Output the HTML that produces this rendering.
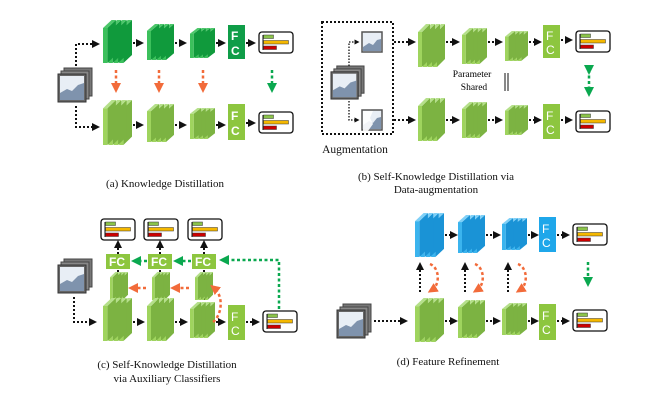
<!DOCTYPE html>
<html><head><meta charset="utf-8"><style>
html,body{margin:0;padding:0;background:#fff}
svg{display:block}
.cap{font-family:"Liberation Serif",serif;font-size:11px;fill:#111}
.fc{font-family:"Liberation Sans",sans-serif;font-size:12px;fill:#fff;font-weight:bold}
.d{fill:none;stroke:#111;stroke-width:2;stroke-dasharray:2,2}
</style></head><body>
<svg width="650" height="400" viewBox="0 0 650 400" xmlns="http://www.w3.org/2000/svg">
<defs>
<g id="sdg"><polygon points="4,8 12,0 12,35 4,43" fill="#109a3c"/><polygon points="0,8 8,0 12,0 4,8" fill="#4cc76a"/><rect x="0" y="8" width="4" height="35" fill="#3cc05c"/></g>
<symbol id="bdg" viewBox="0 0 27 43" preserveAspectRatio="none"><use href="#sdg" x="15"/><use href="#sdg" x="10"/><use href="#sdg" x="5"/><use href="#sdg" x="0"/></symbol>
<g id="slg"><polygon points="4,8 12,0 12,35 4,43" fill="#7cb342"/><polygon points="0,8 8,0 12,0 4,8" fill="#b5e08a"/><rect x="0" y="8" width="4" height="35" fill="#9fd45e"/></g>
<symbol id="blg" viewBox="0 0 27 43" preserveAspectRatio="none"><use href="#slg" x="15"/><use href="#slg" x="10"/><use href="#slg" x="5"/><use href="#slg" x="0"/></symbol>
<g id="sbl"><polygon points="4,8 12,0 12,35 4,43" fill="#1a93d6"/><polygon points="0,8 8,0 12,0 4,8" fill="#7fd0f7"/><rect x="0" y="8" width="4" height="35" fill="#3bb4ee"/></g>
<symbol id="bbl" viewBox="0 0 27 43" preserveAspectRatio="none"><use href="#sbl" x="15"/><use href="#sbl" x="10"/><use href="#sbl" x="5"/><use href="#sbl" x="0"/></symbol>
<symbol id="out" viewBox="0 0 36 23"><rect x="1" y="1" width="34" height="21" rx="3" fill="#fff" stroke="#111" stroke-width="1.3"/><line x1="5" y1="4" x2="5" y2="19" stroke="#111"/><rect x="5.5" y="4" width="10" height="3.5" fill="#8bc34a" stroke="#333" stroke-width=".5"/><rect x="5.5" y="9.5" width="25" height="3.5" fill="#f5b800" stroke="#333" stroke-width=".5"/><rect x="5.5" y="15" width="13" height="3.5" fill="#c00" stroke="#333" stroke-width=".5"/></symbol>
<symbol id="img" viewBox="0 0 36 37"><rect x="7" y="1" width="28" height="28" fill="#777" stroke="#444"/><rect x="4" y="4" width="28" height="28" fill="#888" stroke="#444"/><rect x="1" y="7" width="28" height="28" fill="#666" stroke="#333"/><rect x="3" y="9" width="24" height="24" fill="#e8eef5"/><polygon points="3,26 10,22 15,24 21,18 27,16 27,33 3,33" fill="#7f93ad"/></symbol>
<symbol id="simg" viewBox="0 0 22 22"><rect x="1" y="1" width="20" height="20" fill="#e8eef5" stroke="#555" stroke-width="1.5"/><polygon points="2,16 8,12 12,14 16,9 20,8 20,20 2,20" fill="#7f93ad"/></symbol>
<marker id="ak" viewBox="0 0 10 10" refX="5" refY="5" markerWidth="4" markerHeight="4" orient="auto"><path d="M0,0L10,5L0,10z" fill="#111"/></marker>
<marker id="ao" viewBox="0 0 10 10" refX="5" refY="5" markerWidth="4" markerHeight="4" orient="auto"><path d="M0,0L10,5L0,10z" fill="#f26b3a"/></marker>
<marker id="ag" viewBox="0 0 10 10" refX="5" refY="5" markerWidth="4" markerHeight="4" orient="auto"><path d="M0,0L10,5L0,10z" fill="#0aa84f"/></marker>
</defs>

<!-- (a) -->
<use href="#img" x="57" y="67" width="36" height="37"/>
<path class="d" d="M76,66V44H96" marker-end="url(#ak)"/>
<path class="d" d="M76,106V127H96" marker-end="url(#ak)"/>
<use href="#bdg" x="103" y="20" width="29" height="43"/>
<use href="#bdg" x="147" y="24" width="27" height="36"/>
<use href="#bdg" x="190" y="28" width="25" height="30"/>
<rect x="228" y="25" width="17" height="34" fill="#0f9d48"/><text class="fc" x="231" y="40">F</text><text class="fc" x="231" y="55">C</text>
<use href="#out" x="258" y="31" width="36" height="23"/>
<path class="d" d="M133,43H140" marker-end="url(#ak)"/><path class="d" d="M175,43H183" marker-end="url(#ak)"/><path class="d" d="M216,43H222" marker-end="url(#ak)"/><path class="d" d="M246,43H252" marker-end="url(#ak)"/>
<use href="#blg" x="103" y="100" width="29" height="45"/>
<use href="#blg" x="147" y="104" width="27" height="38"/>
<use href="#blg" x="190" y="108" width="25" height="31"/>
<rect x="228" y="104" width="17" height="36" fill="#8dc63f"/><text class="fc" x="231" y="120">F</text><text class="fc" x="231" y="135">C</text>
<use href="#out" x="258" y="111" width="36" height="23"/>
<path class="d" d="M133,125H140" marker-end="url(#ak)"/><path class="d" d="M175,125H183" marker-end="url(#ak)"/><path class="d" d="M216,125H222" marker-end="url(#ak)"/><path class="d" d="M246,123H252" marker-end="url(#ak)"/>
<g stroke="#f26b3a" stroke-width="2.5" stroke-dasharray="3,2.5"><path d="M116,70V88" marker-end="url(#ao)"/><path d="M159,70V88" marker-end="url(#ao)"/><path d="M203,70V88" marker-end="url(#ao)"/></g>
<path d="M272,70V88" stroke="#0aa84f" stroke-width="2.5" stroke-dasharray="3,2.5" marker-end="url(#ag)"/>
<text class="cap" x="165" y="187" text-anchor="middle">(a) Knowledge Distillation</text>

<!-- (b) -->
<rect x="322" y="22" width="71" height="112" fill="none" stroke="#111" stroke-width="2" stroke-dasharray="2,2"/>
<use href="#img" x="330" y="65" width="35" height="36"/>
<use href="#simg" x="361" y="31" width="22" height="22"/>
<use href="#simg" x="361" y="109" width="22" height="22"/>
<polygon points="369,111 373,111 370,118 373,124 368,131 363,131 363,111" fill="#fff" opacity=".9"/>
<path d="M349,66V42H357" fill="none" stroke="#111" stroke-width="1.3" stroke-dasharray="1.5,1.5" marker-end="url(#ak)"/>
<path d="M349,101V120H357" fill="none" stroke="#111" stroke-width="1.3" stroke-dasharray="1.5,1.5" marker-end="url(#ak)"/>
<text class="cap" x="355" y="153" text-anchor="middle" style="font-size:11.5px">Augmentation</text>
<use href="#blg" x="418" y="24" width="27" height="43"/>
<use href="#blg" x="462" y="28" width="25" height="36"/>
<use href="#blg" x="505" y="31" width="23" height="30"/>
<rect x="543" y="25" width="17" height="33" fill="#8dc63f"/><text class="fc" x="546" y="40" style="font-weight:normal">F</text><text class="fc" x="546" y="54" style="font-weight:normal">C</text>
<use href="#out" x="575" y="30" width="36" height="23"/>
<path class="d" d="M394,42H412" marker-end="url(#ak)"/><path class="d" d="M446,42H456" marker-end="url(#ak)"/><path class="d" d="M488,42H499" marker-end="url(#ak)"/><path class="d" d="M529,42H538" marker-end="url(#ak)"/><path class="d" d="M561,40H569" marker-end="url(#ak)"/>
<use href="#blg" x="418" y="98" width="27" height="43"/>
<use href="#blg" x="462" y="102" width="25" height="36"/>
<use href="#blg" x="505" y="105" width="23" height="30"/>
<rect x="543" y="104" width="17" height="35" fill="#8dc63f"/><text class="fc" x="546" y="120" style="font-weight:normal">F</text><text class="fc" x="546" y="134" style="font-weight:normal">C</text>
<use href="#out" x="575" y="110" width="36" height="23"/>
<path class="d" d="M394,120H412" marker-end="url(#ak)"/><path class="d" d="M446,120H456" marker-end="url(#ak)"/><path class="d" d="M488,120H499" marker-end="url(#ak)"/><path class="d" d="M529,120H538" marker-end="url(#ak)"/><path class="d" d="M561,120H569" marker-end="url(#ak)"/>
<text x="472" y="77" text-anchor="middle" style="font-family:'Liberation Serif',serif;font-size:9.5px">Parameter</text>
<text x="474" y="90" text-anchor="middle" style="font-family:'Liberation Serif',serif;font-size:9.5px">Shared</text>
<line x1="505" y1="73" x2="505" y2="91" stroke="#111" stroke-width="1"/><line x1="508" y1="73" x2="508" y2="91" stroke="#111" stroke-width="1"/>
<path d="M589,70V92" stroke="#0aa84f" stroke-width="2.5" stroke-dasharray="3,2.5" marker-start="url(#ag)" marker-end="url(#ag)"/>
<text class="cap" x="436" y="180" text-anchor="middle">(b) Self-Knowledge Distillation via</text>
<text class="cap" x="436" y="193" text-anchor="middle">Data-augmentation</text>

<!-- (c) -->
<use href="#out" x="100" y="218" width="36" height="23"/>
<use href="#out" x="143" y="218" width="36" height="23"/>
<use href="#out" x="187" y="218" width="36" height="23"/>
<rect x="106" y="254" width="24" height="15" fill="#8dc63f"/><text class="fc" x="109" y="266">FC</text>
<rect x="148" y="254" width="24" height="15" fill="#8dc63f"/><text class="fc" x="151" y="266">FC</text>
<rect x="192" y="254" width="24" height="15" fill="#8dc63f"/><text class="fc" x="195" y="266">FC</text>
<g class="d"><path d="M118,254V244" marker-end="url(#ak)"/><path d="M160,254V244" marker-end="url(#ak)"/><path d="M204,254V244" marker-end="url(#ak)"/><path d="M118,300V270"/><path d="M160,300V270"/><path d="M204,300V270"/></g>
<use href="#blg" x="110" y="272" width="18" height="28"/>
<use href="#blg" x="152" y="272" width="18" height="28"/>
<use href="#blg" x="195" y="272" width="18" height="28"/>
<use href="#img" x="57" y="258" width="36" height="37"/>
<path class="d" d="M74,297V322H93" marker-end="url(#ak)"/>
<use href="#blg" x="103" y="298" width="29" height="43"/>
<use href="#blg" x="147" y="298" width="27" height="43"/>
<use href="#blg" x="190" y="302" width="25" height="36"/>
<rect x="228" y="305" width="17" height="35" fill="#8dc63f"/><text class="fc" x="231" y="321" style="font-weight:normal">F</text><text class="fc" x="231" y="335" style="font-weight:normal">C</text>
<use href="#out" x="262" y="310" width="36" height="23"/>
<path class="d" d="M133,322H141" marker-end="url(#ak)"/><path class="d" d="M175,322H184" marker-end="url(#ak)"/><path class="d" d="M216,322H222" marker-end="url(#ak)"/><path class="d" d="M246,322H256" marker-end="url(#ak)"/>
<g fill="none" stroke="#f26b3a" stroke-width="2.5" stroke-dasharray="3,2.5"><path d="M146,288H133" marker-end="url(#ao)"/><path d="M189,288H175" marker-end="url(#ao)"/><path d="M213,322C222,315 224,296 214,288" marker-end="url(#ao)"/></g>
<path d="M279,309V260H224" fill="none" stroke="#0aa84f" stroke-width="2.5" stroke-dasharray="3,2.5" marker-end="url(#ag)"/>
<g stroke="#0aa84f" stroke-width="2.5" stroke-dasharray="3,2.5"><path d="M191,261H178" marker-end="url(#ag)"/><path d="M147,261H136" marker-end="url(#ag)"/></g>
<text class="cap" x="167" y="368" text-anchor="middle">(c) Self-Knowledge Distillation</text>
<text class="cap" x="167" y="382" text-anchor="middle">via Auxiliary Classifiers</text>

<!-- (d) -->
<use href="#bbl" x="415" y="213" width="29" height="44"/>
<use href="#bbl" x="458" y="215" width="27" height="38"/>
<use href="#bbl" x="502" y="218" width="25" height="32"/>
<rect x="539" y="217" width="17" height="35" fill="#1fa7ea"/><text class="fc" x="542" y="233" style="font-weight:normal">F</text><text class="fc" x="542" y="247" style="font-weight:normal">C</text>
<use href="#out" x="572" y="223" width="36" height="23"/>
<path class="d" d="M445,235H454" marker-end="url(#ak)"/><path class="d" d="M486,235H497" marker-end="url(#ak)"/><path class="d" d="M528,235H535" marker-end="url(#ak)"/><path class="d" d="M557,235H566" marker-end="url(#ak)"/>
<use href="#img" x="336" y="303" width="36" height="37"/>
<use href="#blg" x="415" y="298" width="29" height="44"/>
<use href="#blg" x="458" y="300" width="27" height="38"/>
<use href="#blg" x="502" y="303" width="25" height="32"/>
<rect x="539" y="304" width="17" height="36" fill="#8dc63f"/><text class="fc" x="542" y="320" style="font-weight:normal">F</text><text class="fc" x="542" y="334" style="font-weight:normal">C</text>
<use href="#out" x="572" y="309" width="36" height="23"/>
<path class="d" d="M374,321H404" marker-end="url(#ak)"/><path class="d" d="M445,321H454" marker-end="url(#ak)"/><path class="d" d="M486,321H497" marker-end="url(#ak)"/><path class="d" d="M528,321H535" marker-end="url(#ak)"/><path class="d" d="M557,321H566" marker-end="url(#ak)"/>
<g class="d"><path d="M420,292V266" marker-end="url(#ak)"/><path d="M465,292V266" marker-end="url(#ak)"/><path d="M508,292V266" marker-end="url(#ak)"/></g>
<g fill="none" stroke="#f26b3a" stroke-width="2.5" stroke-dasharray="3,2.5"><path d="M430,264C440,268 440,285 432,290" marker-end="url(#ao)"/><path d="M475,264C485,268 485,285 477,290" marker-end="url(#ao)"/><path d="M518,264C528,268 528,285 520,290" marker-end="url(#ao)"/></g>
<path d="M588,262V282" stroke="#0aa84f" stroke-width="2.5" stroke-dasharray="3,2.5" marker-end="url(#ag)"/>
<text class="cap" x="448" y="365" text-anchor="middle">(d) Feature Refinement</text>
</svg>
</body></html>
